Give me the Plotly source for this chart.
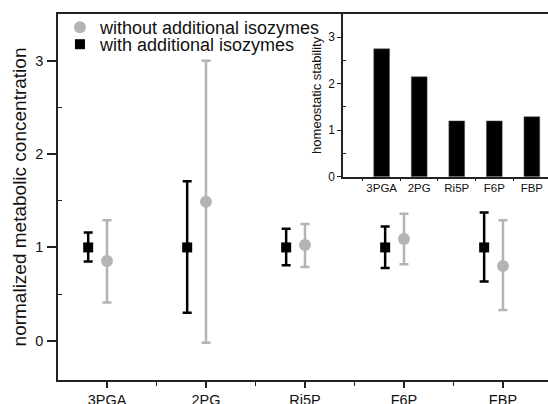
import plotly.graph_objects as go

categories = ["3PGA", "2PG", "Ri5P", "F6P", "FBP"]

# with additional isozymes (black squares)
with_mean = [1.0, 1.0, 1.0, 1.0, 1.0]
with_upper = [1.16, 1.71, 1.20, 1.225, 1.375]
with_lower = [0.85, 0.30, 0.81, 0.78, 0.635]

# without additional isozymes (grey circles)
without_mean = [0.855, 1.49, 1.025, 1.09, 0.80]
without_upper = [1.29, 3.0, 1.25, 1.36, 1.29]
without_lower = [0.41, -0.02, 0.79, 0.82, 0.33]

# inset: homeostatic stability
stability = [2.75, 2.15, 1.20, 1.20, 1.29]

main_yticks = [0, 1, 2, 3]
inset_yticks = [0, 1, 2, 3]
inset_grid = [1, 2]

GREY = "#b4b4b4"
BLACK = "#000000"
AXIS = "#222222"
FONT = "Liberation Sans, Arial, sans-serif"

idx = list(range(len(categories)))
offset_black = -0.19

fig = go.Figure()

fig.add_trace(go.Scatter(
    x=idx, y=without_mean, mode="markers", name="without additional isozymes",
    marker=dict(symbol="circle", size=12, color=GREY),
    error_y=dict(type="data", symmetric=False,
                 array=[u - m for u, m in zip(without_upper, without_mean)],
                 arrayminus=[m - l for m, l in zip(without_mean, without_lower)],
                 color=GREY, thickness=2.5, width=4.5),
    xaxis="x", yaxis="y", legend="legend"))

fig.add_trace(go.Scatter(
    x=[i + offset_black for i in idx], y=with_mean, mode="markers", name="with additional isozymes",
    marker=dict(symbol="square", size=10, color=BLACK),
    error_y=dict(type="data", symmetric=False,
                 array=[u - m for u, m in zip(with_upper, with_mean)],
                 arrayminus=[m - l for m, l in zip(with_mean, with_lower)],
                 color=BLACK, thickness=2.5, width=4.5),
    xaxis="x", yaxis="y", legend="legend2"))

fig.add_trace(go.Bar(
    x=idx, y=stability, width=0.42, marker=dict(color=BLACK, line=dict(color="#555555", width=0.5)),
    showlegend=False, xaxis="x2", yaxis="y2"))

for g in inset_grid:
    fig.add_shape(type="line", xref="x2 domain", yref="y2", x0=0, x1=1, y0=g, y1=g,
                  line=dict(color="#aaaaaa", width=1, dash="dot"), layer="below")

legend_style = dict(xanchor="left", yanchor="top", bgcolor="rgba(0,0,0,0)",
                    font=dict(size=18, family=FONT, color="#111111"), itemwidth=30)

fig.update_layout(
    width=548, height=404,
    margin=dict(l=58, r=0, t=14, b=24, autoexpand=False),
    plot_bgcolor="white", paper_bgcolor="white",
    font=dict(family=FONT, color="#111111"),
    showlegend=True,
    legend=dict(x=0.004, y=1.0138, **legend_style),
    legend2=dict(x=0.004, y=0.9672, **legend_style),
    xaxis=dict(domain=[0, 1], range=[-0.495, 4.455], tickmode="array", tickvals=idx,
               ticktext=categories, ticks="outside", ticklen=6, tickwidth=1.5, tickcolor=AXIS,
               showline=True, linewidth=1.5, linecolor=AXIS, mirror=True, showgrid=False,
               zeroline=False, automargin=False,
               tickfont=dict(size=14.5, family=FONT, color="#111111"),
               minor=dict(tickmode="array", tickvals=[i + 0.5 for i in idx[:-1]],
                          ticks="outside", ticklen=4, tickwidth=1.2, tickcolor=AXIS)),
    yaxis=dict(domain=[0, 1], range=[-0.42, 3.5], tickmode="array", tickvals=main_yticks,
               ticks="outside", ticklen=9, tickwidth=1.5, tickcolor=AXIS,
               showline=True, linewidth=1.5, linecolor=AXIS, mirror=False, showgrid=False,
               zeroline=False, automargin=False, ticklabelstandoff=1,
               tickfont=dict(size=14.5, family=FONT, color="#111111"),
               title=dict(text="normalized metabolic concentration", standoff=4,
                          font=dict(size=19, family=FONT, color="#111111")),
               minor=dict(tickmode="array", tickvals=[t + 0.5 for t in main_yticks[:-1]],
                          ticks="inside", ticklen=4, tickwidth=1.2, tickcolor=AXIS)),
    xaxis2=dict(domain=[0.5816, 1.0], anchor="y2", range=[-1.03, 4.43], tickmode="array",
                tickvals=idx, ticktext=categories, ticks="", showline=True, linewidth=1.5,
                linecolor=AXIS, showgrid=False, zeroline=False, automargin=False,
                tickfont=dict(size=11.5, family=FONT, color="#111111"),
                minor=dict(tickmode="array", tickvals=[i - 0.5 for i in idx],
                           ticks="outside", ticklen=3, tickwidth=1, tickcolor=AXIS)),
    yaxis2=dict(domain=[0.5555, 1.0], anchor="x2", range=[0, 3.5], tickmode="array",
                tickvals=inset_yticks, ticks="outside", ticklen=4, tickwidth=1.2, tickcolor=AXIS,
                showline=True, linewidth=1.5, linecolor=AXIS, showgrid=False, zeroline=False,
                automargin=False,
                tickfont=dict(size=12, family=FONT, color="#111111"),
                title=dict(text="homeostatic stability", standoff=4,
                           font=dict(size=13, family=FONT, color="#111111")),
                minor=dict(tickmode="array", tickvals=[t + 0.5 for t in inset_yticks[:-1]],
                           ticks="inside", ticklen=3, tickwidth=1, tickcolor=AXIS)),
)

fig.write_html("out.html", config={"displayModeBar": False},
               post_script="document.body.style.margin='0';")
